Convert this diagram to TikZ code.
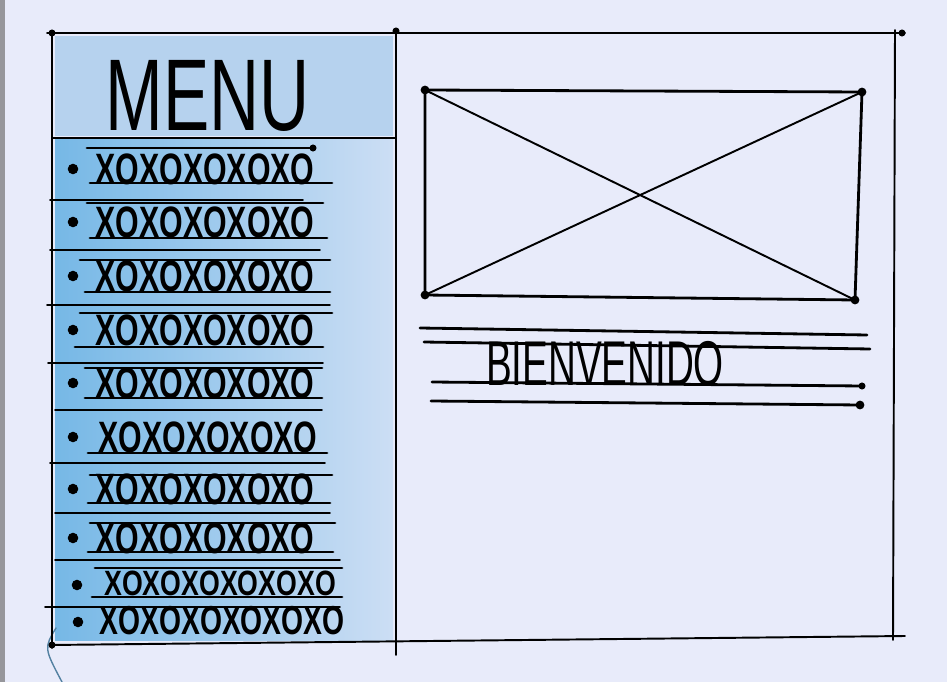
\documentclass[tikz,border=0pt]{standalone}
\usepackage{fontspec}
\usepackage{graphicx}
\newfontfamily\hand{Liberation Sans}
\definecolor{paper}{RGB}{232,235,250}
\definecolor{edge}{RGB}{150,150,155}
\definecolor{crayon}{RGB}{118,184,230}
\definecolor{crayonpale}{RGB}{204,222,244}
\definecolor{crayontop}{RGB}{182,210,238}
\newcommand{\xorow}[2]{\scalebox{#1}[1]{#2}}

\begin{document}
\begin{tikzpicture}[x=0.02cm,y=-0.02cm,line cap=round,
  pen/.style={line width=1.1pt,black},
  ink/.style={line width=1.6pt,black},
  dot/.style={circle,fill=black,inner sep=0pt,minimum size=5pt},
  itemtext/.style={font=\hand\bfseries\fontsize{25}{25}\selectfont,inner sep=0pt}]
\useasboundingbox (0,0) rectangle (947,682);
\fill[paper] (0,0) rectangle (947,682);
\fill[edge] (0,0) rectangle (5,682);
% crayon colouring of the menu column
\fill[crayontop] (55,36) rectangle (393,136);
\shade[left color=crayon,right color=crayonpale] (55,140) rectangle (393,640);
\draw[crayon!70!black,line width=0.8pt] (56,628) .. controls (44,648) .. (62,682);
% frame
\draw[pen] (47,33) -- (905,33);
\draw[pen] (52,33) -- (52,648);
\draw[pen] (396,30) -- (396,655);
\draw[pen] (895,30) -- (893,640);
\draw[pen] (50,645) -- (905,636);
\draw[pen] (52,138) -- (396,138);
\node[dot,minimum size=4pt] (c1) at (52,33) {};
\node[dot,minimum size=4pt] (c2) at (396,31) {};
\node[dot,minimum size=4pt] (c3) at (902,33) {};
\node[dot,minimum size=4pt] (c4) at (52,645) {};
\node[font=\hand\fontsize{58}{58}\selectfont,inner sep=0pt] (menu) at (208,96) {\xorow{0.68}{MENU}};
% menu entries
\foreach \c/\tp/\ta/\tb/\bt/\ba/\bb/\sp/\sa/\sb [count=\i] in
  {169/148/87/313/183/90/332/200/50/303,
   222/203/87/323/238/90/327/250/50/320,
   276/260/80/330/292/85/330/305/47/330,
   330/313/80/332/347/75/323/363/48/323,
   383/368/85/322/398/85/322/410/55/322,
   489/475/90/332/503/88/330/513/55/330,
   538/523/90/335/552/88/333/560/55/340}{
  \draw[ink] (\ta,\tp) -- (\tb,\tp);
  \draw[ink] (\ba,\bt) -- (\bb,\bt);
  \draw[pen] (\sa,\sp) -- (\sb,\sp);
  \node[dot,minimum size=6pt] (bullet\i) at (73,\c) {};
  \node[itemtext] (item\i) at (205,\c) {\xorow{0.69}{XOXOXOXOXO}};
}
\node[dot,minimum size=4pt] at (313,148) {};
\draw[ink] (88,453) -- (327,453);
\draw[pen] (50,463) -- (325,463);
\node[dot,minimum size=6pt] (bullet8) at (73,437) {};
\node[itemtext] (item8) at (208,437) {\xorow{0.69}{XOXOXOXOXO}};
\draw[ink] (95,568) -- (342,568);
\draw[ink] (92,597) -- (342,597);
\draw[pen] (45,607) -- (340,607);
\node[dot,minimum size=6pt] (bullet9) at (77,585) {};
\node[itemtext,font=\hand\bfseries\fontsize{20}{20}\selectfont] (item9) at (220,583) {\xorow{0.76}{XOXOXOXOXOXO}};
\node[dot,minimum size=6pt] (bullet10) at (78,622) {};
\node[itemtext,font=\hand\bfseries\fontsize{23}{23}\selectfont] (item10) at (222,621) {\xorow{0.70}{XOXOXOXOXOXO}};
% picture placeholder
\draw[ink] (425,90) -- (862,92) -- (855,300) -- (425,295) -- cycle;
\draw[pen] (425,90) -- (855,300);
\draw[pen] (425,295) -- (862,92);
\node[dot] (p1) at (425,90) {};
\node[dot] (p2) at (862,92) {};
\node[dot] (p3) at (855,300) {};
\node[dot] (p4) at (425,295) {};
% welcome block
\draw[ink] (420,328) -- (867,335);
\draw[ink] (424,342) -- (870,349);
\node[font=\hand\fontsize{36}{36}\selectfont,inner sep=0pt] (welcome) at (605,364) {\xorow{0.61}{BIENVENIDO}};
\draw[ink] (432,382) -- (862,386);
\draw[ink] (431,401) -- (860,405);
\node[dot,minimum size=4pt] at (862,386) {};
\node[dot,minimum size=5pt] at (860,405) {};
\end{tikzpicture}
\end{document}
